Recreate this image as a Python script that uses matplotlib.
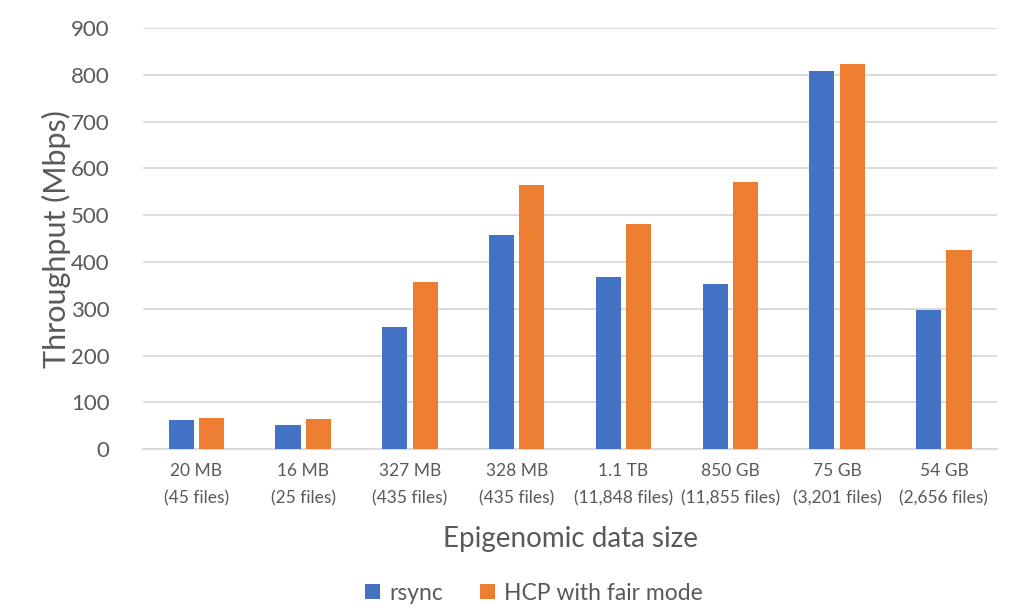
import matplotlib
matplotlib.use("Agg")
import matplotlib.pyplot as plt
import numpy as np

categories = ["20 MB\n(45 files)", "16 MB\n(25 files)", "327 MB\n(435 files)", "328 MB\n(435 files)",
              "1.1 TB\n(11,848 files)", "850 GB\n(11,855 files)", "75 GB\n(3,201 files)", "54 GB\n(2,656 files)"]
rsync = [62, 51, 261, 457, 368, 352, 808, 297]
hcp = [67, 65, 358, 565, 481, 570, 823, 426]
series_names = ["rsync", "HCP with fair mode"]
yticks = [0, 100, 200, 300, 400, 500, 600, 700, 800, 900]

plt.rcParams['font.family'] = ['Lato', 'DejaVu Sans']
text_color = "#595959"

fig = plt.figure(figsize=(10.17, 6.11), dpi=100)
ax = fig.add_axes([0.1406, 0.265, 0.84, 0.689])

x = np.arange(len(categories))
w = 0.235
off = 0.142
ax.bar(x - off, rsync, w, color="#4472C4", label=series_names[0], zorder=3)
ax.bar(x + off, hcp, w, color="#ED7D31", label=series_names[1], zorder=3)

ax.set_xlim(-0.5, len(categories) - 0.5)
ax.set_ylim(0, 900)
ax.set_yticks(yticks)
ax.set_yticklabels([str(v) for v in yticks])
ax.set_xticks(x)
ax.set_xticklabels(categories, fontsize=12.5, color=text_color, linespacing=1.85)
ax.tick_params(axis='y', labelsize=16, colors=text_color, length=0, pad=24)
ax.tick_params(axis='x', length=0, pad=10)
ax.yaxis.grid(True, color="#D9D9D9", linewidth=1.3, zorder=0)
for s in ["top", "right", "left"]:
    ax.spines[s].set_visible(False)
ax.spines["bottom"].set_color("#D9D9D9")
ax.spines["bottom"].set_linewidth(1.3)

ax.set_ylabel("Throughput (Mbps)", fontsize=22, color=text_color, labelpad=0)
ax.set_xlabel("Epigenomic data size", fontsize=20, color=text_color, labelpad=14)

leg = fig.legend(loc="center", bbox_to_anchor=(0.525, 0.029), ncol=2, frameon=False,
                 fontsize=16.5, handlelength=0.65, handleheight=0.65, columnspacing=1.6,
                 handletextpad=0.4)
for t in leg.get_texts():
    t.set_color(text_color)

fig.savefig("out.png", dpi=100)
